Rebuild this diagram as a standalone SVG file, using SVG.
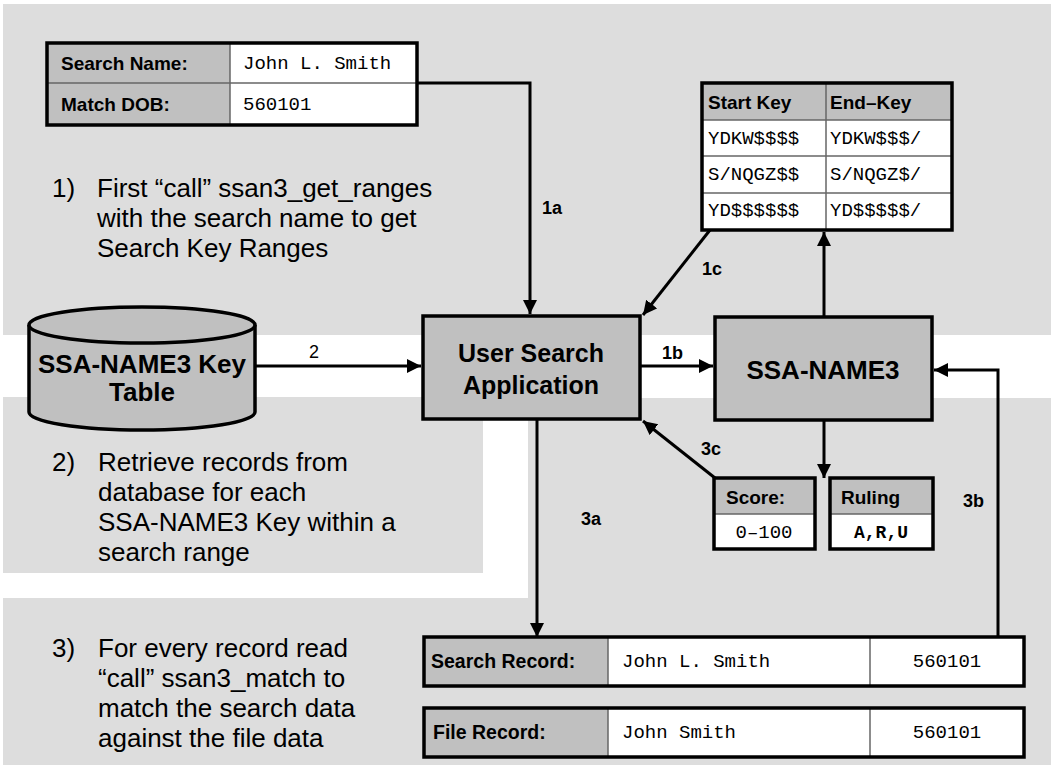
<svg xmlns="http://www.w3.org/2000/svg" width="1051" height="765" viewBox="0 0 1051 765">
<style>
.bg{fill:#dddddd}
.box{fill:#c0c0c0;stroke:#000;stroke-width:3.5}
.cell{fill:#ffffff}
.hdr{fill:#c0c0c0}
.frame{fill:none;stroke:#000;stroke-width:3.5}
.div{stroke:#666;stroke-width:1.5;fill:none}
.conn{stroke:#000;stroke-width:3;fill:none}
.b{font-family:"Liberation Sans",Arial,sans-serif;font-weight:bold;fill:#000}
.r{font-family:"Liberation Sans",Arial,sans-serif;fill:#000}
.m{font-family:"Liberation Mono","Courier New",monospace;fill:#000}
</style>
<defs>
<marker id="ah" markerUnits="userSpaceOnUse" markerWidth="16" markerHeight="16" refX="14" refY="7" orient="auto">
<path d="M0,0 L14,7 L0,14 z" fill="#000"/>
</marker>
</defs>
<rect width="1051" height="765" fill="#ffffff"/>
<g id="background">
<rect class="bg" x="3" y="4" width="1048" height="331"/>
<rect class="bg" x="3" y="397" width="480" height="176"/>
<path class="bg" d="M528,398 H1051 V765 H3 V598 H528 Z"/>
</g>
<g id="steps">
<text class="r" font-size="26"><tspan x="52" y="197">1)</tspan><tspan x="97" y="197">First “call” ssan3_get_ranges</tspan><tspan x="97" y="227">with the search name to get</tspan><tspan x="97" y="257">Search Key Ranges</tspan></text>
<text class="r" font-size="26"><tspan x="52" y="471">2)</tspan><tspan x="98" y="471">Retrieve records from</tspan><tspan x="98" y="501">database for each</tspan><tspan x="98" y="531">SSA-NAME3 Key within a</tspan><tspan x="98" y="561">search range</tspan></text>
<text class="r" font-size="26"><tspan x="52" y="657">3)</tspan><tspan x="98" y="657">For every record read</tspan><tspan x="98" y="687">“call” ssan3_match to</tspan><tspan x="98" y="717">match the search data</tspan><tspan x="98" y="747">against the file data</tspan></text>
</g>
<g id="connectors">
<polyline class="conn" points="417,83 530,83 530,314" marker-end="url(#ah)"/>
<line class="conn" x1="710" y1="230" x2="643" y2="315" marker-end="url(#ah)"/>
<line class="conn" x1="824" y1="317" x2="824" y2="232" marker-end="url(#ah)"/>
<line class="conn" x1="256" y1="366" x2="421" y2="366" marker-end="url(#ah)"/>
<line class="conn" x1="640" y1="366" x2="713" y2="366" marker-end="url(#ah)"/>
<line class="conn" x1="824" y1="420" x2="824" y2="478" marker-end="url(#ah)"/>
<line class="conn" x1="715" y1="478" x2="643" y2="421" marker-end="url(#ah)"/>
<line class="conn" x1="537" y1="420" x2="537" y2="637" marker-end="url(#ah)"/>
<polyline class="conn" points="998,637 998,370 934,370" marker-end="url(#ah)"/>
<text class="b" font-size="18" x="542" y="214">1a</text>
<text class="b" font-size="18" x="702" y="275">1c</text>
<text class="r" font-size="18" x="309" y="358">2</text>
<text class="b" font-size="18" x="662" y="359">1b</text>
<text class="b" font-size="18" x="701" y="455">3c</text>
<text class="b" font-size="18" x="581" y="525">3a</text>
<text class="b" font-size="18" x="963" y="507">3b</text>
</g>
<g id="search-input">
<rect class="hdr" x="47" y="43" width="183" height="82"/>
<rect class="cell" x="230" y="43" width="187" height="82"/>
<line class="div" x1="47" y1="83" x2="417" y2="83"/>
<line class="div" x1="230" y1="43" x2="230" y2="125"/>
<rect class="frame" x="47" y="43" width="370" height="82"/>
<text class="b" font-size="19" x="61" y="70">Search Name:</text>
<text class="b" font-size="19" x="61" y="111">Match DOB:</text>
<text class="m" font-size="19" x="243" y="69">John L. Smith</text>
<text class="m" font-size="19" x="243" y="110">560101</text>
</g>
<g id="key-ranges">
<rect class="hdr" x="702" y="83" width="250" height="37"/>
<rect class="cell" x="702" y="120" width="250" height="110"/>
<line class="div" x1="702" y1="120" x2="952" y2="120"/>
<line class="div" x1="702" y1="156" x2="952" y2="156"/>
<line class="div" x1="702" y1="193" x2="952" y2="193"/>
<line class="div" x1="826" y1="83" x2="826" y2="230"/>
<rect class="frame" x="702" y="83" width="250" height="147"/>
<text class="b" font-size="19" x="708" y="109">Start Key</text>
<text class="b" font-size="19" x="830" y="109">End–Key</text>
<text class="m" font-size="19" x="708" y="144">YDKW$$$$</text>
<text class="m" font-size="19" x="830" y="144">YDKW$$$/</text>
<text class="m" font-size="19" x="708" y="180">S/NQGZ$$</text>
<text class="m" font-size="19" x="830" y="180">S/NQGZ$/</text>
<text class="m" font-size="19" x="708" y="216">YD$$$$$$</text>
<text class="m" font-size="19" x="830" y="216">YD$$$$$/</text>
</g>
<g id="key-table">
<path class="box" d="M29,325 V412 A113,18 0 0 0 255,412 V325"/>
<ellipse class="box" cx="142" cy="325" rx="113" ry="18"/>
<text class="b" font-size="26" x="142" y="373" text-anchor="middle">SSA-NAME3 Key</text>
<text class="b" font-size="26" x="142" y="401" text-anchor="middle">Table</text>
</g>
<g id="user-search-app">
<rect class="box" x="423" y="316" width="217" height="103"/>
<text class="b" font-size="25" x="531" y="362" text-anchor="middle">User Search</text>
<text class="b" font-size="25" x="531" y="394" text-anchor="middle">Application</text>
</g>
<g id="ssa-name3">
<rect class="box" x="715" y="317" width="217" height="103"/>
<text class="b" font-size="26" x="823" y="379" text-anchor="middle">SSA-NAME3</text>
</g>
<g id="score">
<rect class="hdr" x="714" y="478" width="101" height="36"/>
<rect class="cell" x="714" y="514" width="101" height="35"/>
<line class="div" x1="714" y1="514" x2="815" y2="514"/>
<rect class="frame" x="714" y="478" width="101" height="71"/>
<text class="b" font-size="19" x="726" y="504">Score:</text>
<text class="m" font-size="19" x="764" y="538" text-anchor="middle">0–100</text>
</g>
<g id="ruling">
<rect class="hdr" x="830" y="478" width="103" height="36"/>
<rect class="cell" x="830" y="514" width="103" height="35"/>
<line class="div" x1="830" y1="514" x2="933" y2="514"/>
<rect class="frame" x="830" y="478" width="103" height="71"/>
<text class="b" font-size="19" x="841" y="504">Ruling</text>
<text class="m" font-size="18" font-weight="bold" x="881" y="538" text-anchor="middle">A,R,U</text>
</g>
<g id="search-record">
<rect class="hdr" x="424" y="637" width="184" height="49"/>
<rect class="cell" x="608" y="637" width="416" height="49"/>
<line class="div" x1="608" y1="637" x2="608" y2="686"/>
<line class="div" x1="870" y1="637" x2="870" y2="686"/>
<rect class="frame" x="424" y="637" width="600" height="49"/>
<text class="b" font-size="19.5" x="431" y="668">Search Record:</text>
<text class="m" font-size="19" x="622" y="667">John L. Smith</text>
<text class="m" font-size="19" x="947" y="667" text-anchor="middle">560101</text>
</g>
<g id="file-record">
<rect class="hdr" x="424" y="708" width="184" height="49"/>
<rect class="cell" x="608" y="708" width="416" height="49"/>
<line class="div" x1="608" y1="708" x2="608" y2="757"/>
<line class="div" x1="870" y1="708" x2="870" y2="757"/>
<rect class="frame" x="424" y="708" width="600" height="49"/>
<text class="b" font-size="19.5" x="433" y="739">File Record:</text>
<text class="m" font-size="19" x="622" y="738">John Smith</text>
<text class="m" font-size="19" x="947" y="738" text-anchor="middle">560101</text>
</g>
</svg>
